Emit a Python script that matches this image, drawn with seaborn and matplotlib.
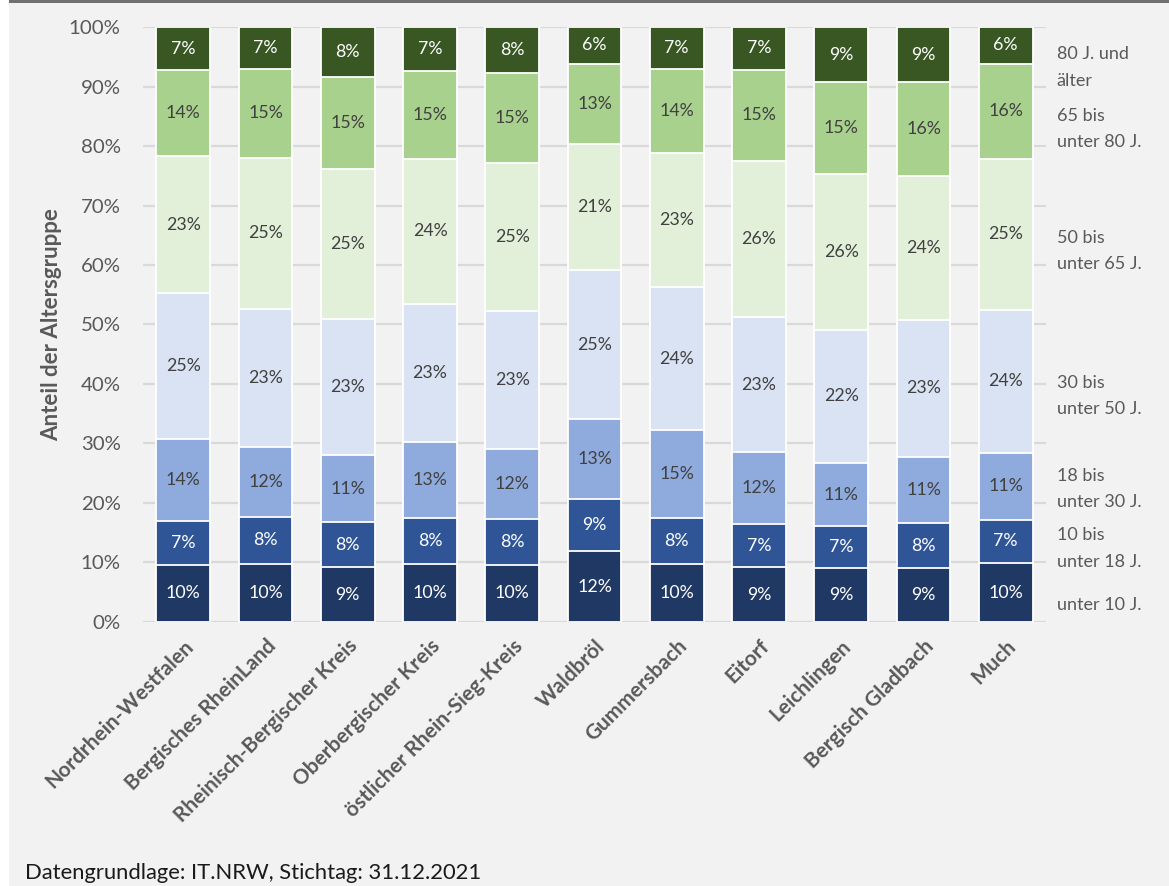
import matplotlib
matplotlib.use("Agg")
import matplotlib.pyplot as plt
from matplotlib.patches import Rectangle
from matplotlib.ticker import MultipleLocator, FuncFormatter
from matplotlib.transforms import blended_transform_factory
import numpy as np
import pandas as pd
import seaborn as sns

# Regions (x categories)
regions = [
    "Nordrhein-Westfalen", "Bergisches RheinLand", "Rheinisch-Bergischer Kreis",
    "Oberbergischer Kreis", "östlicher Rhein-Sieg-Kreis", "Waldbröl",
    "Gummersbach", "Eitorf", "Leichlingen", "Bergisch Gladbach", "Much",
]

# Share of each age group per region, in percent
unter_10 = [9.6, 9.8, 9.2, 9.8, 9.6, 11.9, 9.7, 9.2, 9.1, 9.0, 9.9]
von_10_bis_18 = [7.3, 7.8, 7.6, 7.6, 7.7, 8.8, 7.7, 7.3, 7.0, 7.6, 7.3]
von_18_bis_30 = [13.8, 11.8, 11.2, 12.9, 11.8, 13.4, 14.8, 12.0, 10.6, 11.1, 11.2]
von_30_bis_50 = [24.6, 23.2, 22.9, 23.2, 23.1, 25.0, 24.1, 22.8, 22.4, 23.1, 24.1]
von_50_bis_65 = [23.0, 25.4, 25.3, 24.4, 24.9, 21.3, 22.6, 26.2, 26.2, 24.1, 25.4]
von_65_bis_80 = [14.4, 15.0, 15.4, 14.7, 15.2, 13.4, 14.0, 15.3, 15.4, 15.8, 15.9]
ab_80 = [7.3, 7.0, 8.4, 7.4, 7.7, 6.2, 7.1, 7.2, 9.3, 9.3, 6.2]

group_labels = [
    "unter 10 J.", "10 bis\nunter 18 J.", "18 bis\nunter 30 J.", "30 bis\nunter 50 J.",
    "50 bis\nunter 65 J.", "65 bis\nunter 80 J.", "80 J. und\nälter",
]
series = [unter_10, von_10_bis_18, von_18_bis_30, von_30_bis_50,
          von_50_bis_65, von_65_bis_80, ab_80]

# Styling
colors = ["#203864", "#2f5597", "#8faadc", "#dae3f3", "#e2f0d9", "#a9d18e", "#385723"]
label_colors = ["white", "white", "#404040", "#404040", "#404040", "#404040", "white"]
legend_y = [2.85, 12.35, 22.3, 38.0, 62.4, 82.8, 93.2]
bg = "#f2f2f2"
gray_text = "#595959"

sns.set_style("white")
plt.rcParams["font.family"] = ["Lato", "DejaVu Sans"]

# Long table with segment bottoms and tops
rows = []
for g, (name, vals) in enumerate(zip(group_labels, series)):
    for r, v in zip(regions, vals):
        rows.append({"region": r, "group": g, "value": v})
df = pd.DataFrame(rows)
df["top"] = df.groupby("region", sort=False)["value"].cumsum()
df["bottom"] = df["top"] - df["value"]

fig = plt.figure(figsize=(11.69, 8.86), dpi=100, facecolor=bg)
ax = fig.add_axes([0.1223, 0.298, 0.7725, 0.6715])
ax.set_facecolor(bg)

# Stacked bars: draw cumulative tops from the highest group down
for g in reversed(range(len(series))):
    sub = df[df["group"] == g]
    sns.barplot(data=sub, x="region", y="top", order=regions, color=colors[g],
                saturation=1, width=0.655, errorbar=None, edgecolor="white",
                linewidth=1.3, ax=ax, zorder=2)

# Value labels in the middle of each segment
pos = {r: i for i, r in enumerate(regions)}
for _, row in df.iterrows():
    g = int(row["group"])
    ax.text(pos[row["region"]], row["bottom"] + row["value"] / 2,
            f"{row['value']:.0f}%", ha="center", va="center",
            fontsize=12.8, color=label_colors[g], zorder=5)

# Group names to the right of the plot
trans = blended_transform_factory(ax.transAxes, ax.transData)
for name, y in zip(group_labels, legend_y):
    ax.text(1.012, y, name, transform=trans, ha="left", va="center",
            fontsize=13, color=gray_text, linespacing=1.78, clip_on=False)

ax.set_ylim(0, 100)
ax.set_xlim(-0.49, len(regions) - 0.51)
ax.yaxis.set_major_locator(MultipleLocator(10))
ax.yaxis.set_major_formatter(FuncFormatter(lambda v, p: f"{v:.0f}%"))
ax.yaxis.grid(True, color="#d9d9d9", linewidth=1.6, zorder=0)
ax.xaxis.grid(False)
ax.set_axisbelow(True)
for s in ax.spines.values():
    s.set_visible(False)

ax.tick_params(axis="y", length=0, pad=16, labelsize=14.7, labelcolor=gray_text)
ax.tick_params(axis="x", length=0, pad=10)
ax.set_xticks(range(len(regions)))
ax.set_xticklabels(regions, rotation=45, ha="right", va="top",
                   rotation_mode="anchor", fontsize=15, fontweight="bold",
                   color=gray_text)

ax.set_xlabel("")
ax.set_ylabel("Anteil der Altersgruppe", fontsize=16, fontweight="bold",
              color=gray_text)
ax.yaxis.set_label_coords(-0.0897, 0.5)

fig.text(0.0214, 0.008, "Datengrundlage: IT.NRW, Stichtag: 31.12.2021",
         ha="left", va="baseline", fontsize=15.8, color="#1a1a1a")

# Frame: white strip on the left, dark line across the top
fig.patches.append(Rectangle((0, 0), 9 / 1169, 1, transform=fig.transFigure,
                             facecolor="white", edgecolor="none", zorder=10))
fig.patches.append(Rectangle((9 / 1169, 1 - 3 / 886), 1, 3 / 886,
                             transform=fig.transFigure, facecolor="#707070",
                             edgecolor="none", zorder=10))

fig.savefig("out.png", dpi=100, facecolor=bg)
